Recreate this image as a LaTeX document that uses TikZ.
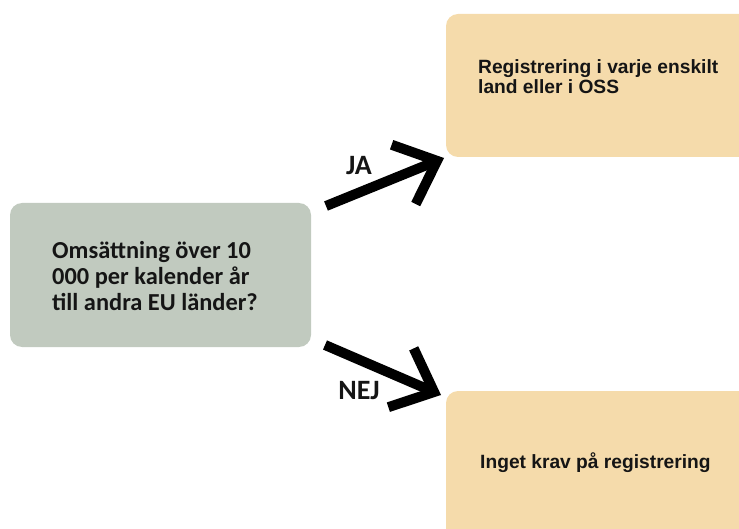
\documentclass[tikz,border=0pt]{standalone}
\usepackage{fontspec}
\usetikzlibrary{arrows.meta}
\newfontfamily\qfont{Carlito}[BoldFont={* Bold}]
\newfontfamily\afont{Liberation Sans}
\definecolor{qgreen}{HTML}{C1CABF}
\definecolor{apeach}{HTML}{F5DBAB}
\definecolor{inkc}{HTML}{151515}
\tikzset{
  qbox/.style={fill=qgreen, draw=none, rounded corners=12pt},
  abox/.style={fill=apeach, draw=none, rounded corners=12pt},
  qtext/.style={inner sep=0pt, align=left, text=inkc,
    font=\qfont\bfseries\fontsize{24.4}{26}\selectfont},
  atext/.style={inner sep=0pt, align=left, text=inkc,
    font=\afont\bfseries\fontsize{19.2}{20}\selectfont},
  lbl/.style={inner sep=0pt, text=inkc,
    font=\qfont\bfseries\fontsize{28}{30}\selectfont},
  bigarrow/.style={line width=10pt, draw=black,
    -{Straight Barb[length=36pt, width=64pt, line cap=butt]}}
}
\begin{document}
\begin{tikzpicture}[x=1pt, y=-1pt]
  \useasboundingbox (0,0) rectangle (739,529);
  \clip (0,0) rectangle (739,529);

  % question box
  \fill[qbox] (10,203) rectangle (311,347);
  \node[qtext, anchor=west] (q) at (52,276.5)
    {Omsättning över 10\\000 per kalender år\\till andra EU länder?};

  % answer boxes, running off the right edge
  \fill[abox] (446,14) rectangle (760,157);
  \node[atext, anchor=west] (ja) at (478,76.5)
    {Registrering i varje enskilt\\land eller i OSS};
  \fill[abox] (446,391) rectangle (760,560);
  \node[atext, anchor=base west] (nej) at (480,468) {Inget krav på registrering};

  % arrows
  \coordinate (jaFrom) at (326,206);
  \coordinate (jaTip) at (444,158);
  \coordinate (nejFrom) at (325,345);
  \coordinate (nejTip) at (441,395);
  \draw[bigarrow] (jaFrom) -- (jaTip);
  \draw[bigarrow] (nejFrom) -- (nejTip);

  \node[lbl, anchor=base] (jalbl) at (359,174.3) {JA};
  \node[lbl, anchor=base] (nejlbl) at (359,399.3) {NEJ};
\end{tikzpicture}
\end{document}
